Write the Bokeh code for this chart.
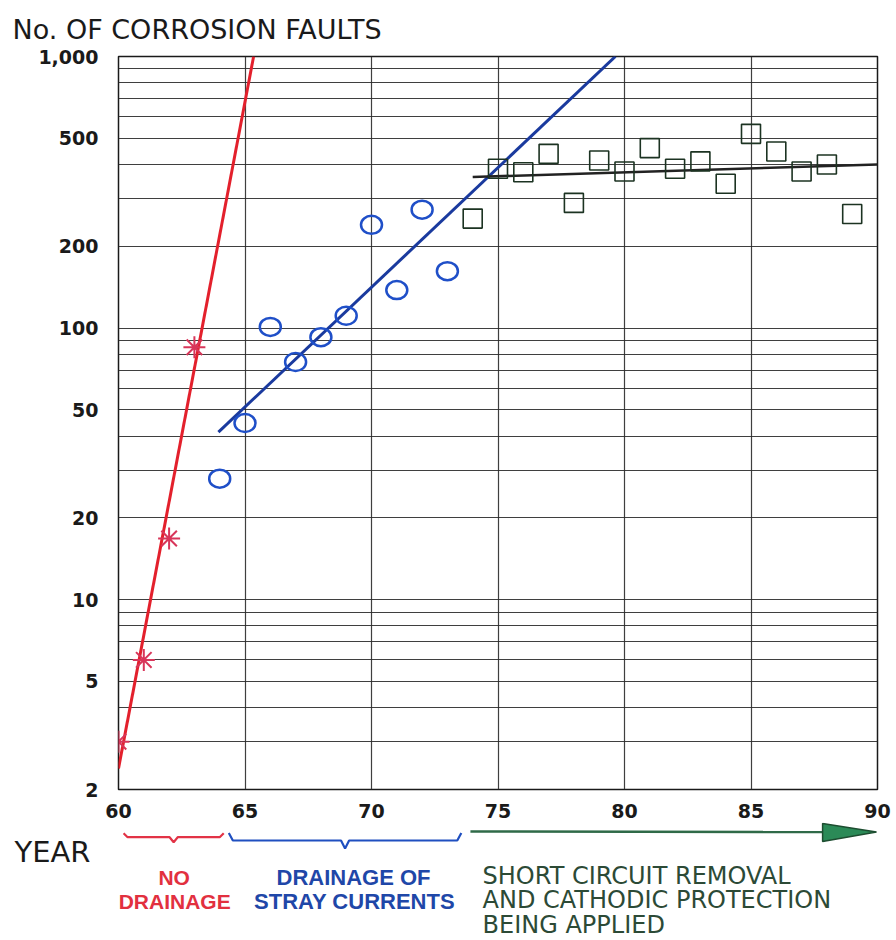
import numpy as np
from bokeh.plotting import figure
from bokeh.layouts import column
from bokeh.models import Range1d, FixedTicker, NumeralTickFormatter
from bokeh.core.properties import value
from bokeh.embed import file_html
from bokeh.resources import INLINE

# ---------------- data ----------------
no_drain_years = [60, 61, 62, 63]
no_drain_faults = [3.0, 6.0, 16.8, 85]

stray_years = [64, 65, 66, 67, 68, 69, 70, 71, 72, 73]
stray_faults = [27.9, 44.7, 101, 75, 92.6, 111, 240, 138, 273, 162]

cp_years = [74, 75, 76, 77, 78, 79, 80, 81, 82, 83, 84, 85, 86, 87, 88, 89]
cp_faults = [253, 386, 375, 438, 289, 414, 377, 460, 386, 411, 340, 519, 447, 377, 400, 263]

trend_red_x = [60, 65.34]
trend_red_y = [2.39, 1000]
trend_blue_x = [63.95, 79.64]
trend_blue_y = [41.4, 1000]
trend_black_x = [74, 90]
trend_black_y = [360, 400]

x_ticks = [60, 65, 70, 75, 80, 85, 90]
y_ticks = [2, 5, 10, 20, 50, 100, 200, 500, 1000]
y_grid = [2, 3, 4, 5, 6, 7, 8, 9, 10, 20, 30, 40, 50, 60, 70, 80, 90,
          100, 200, 300, 400, 500, 600, 700, 800, 900, 1000]

title_text = "No. OF CORROSION FAULTS"
x_title = "YEAR"
phase1 = ["NO", "DRAINAGE"]
phase2 = ["DRAINAGE OF", "STRAY CURRENTS"]
phase3 = ["SHORT CIRCUIT REMOVAL", "AND CATHODIC PROTECTION", "BEING APPLIED"]

# phase spans (years) used for braces / arrow below the axis
phase1_span = [60.2, 64.16]
phase2_span = [64.36, 73.55]
phase3_span = [73.91, 89.96]

# ---------------- layout ----------------
W = 896
FL, FR = 118, 877          # frame left / right (px)
TOP, FRAME_H, BOT = 56, 733, 33
MAIN_H = TOP + FRAME_H + BOT
FOOT_H = 940 - MAIN_H

# main chart
p = figure(width=W, height=MAIN_H, y_axis_type="log",
           x_range=Range1d(60, 90), y_range=Range1d(2, 1000),
           output_backend="svg", toolbar_location=None,
           min_border_left=FL, min_border_right=W - FR,
           min_border_top=TOP, min_border_bottom=BOT)
p.title.text = title_text
p.title.align = "left"
p.title.offset = -106
p.title.text_font = "DejaVu Sans"
p.title.text_font_style = "normal"
p.title.text_font_size = "27px"
p.title.text_color = "#1a1a1a"
p.title.standoff = 23
p.background_fill_color = "white"
p.border_fill_color = "white"
p.outline_line_color = "#1a1a1a"
p.outline_line_width = 1.5

for ax in (p.xaxis, p.yaxis):
    ax.axis_line_color = None
    ax.major_tick_line_color = None
    ax.minor_tick_line_color = None
    ax.major_label_text_font = "DejaVu Sans"
    ax.major_label_text_font_style = "bold"
    ax.major_label_text_font_size = "19px"
    ax.major_label_text_color = "#1a1a1a"

p.xaxis.ticker = FixedTicker(ticks=x_ticks)
p.xaxis.major_label_standoff = 8
p.yaxis.ticker = FixedTicker(ticks=y_ticks)
p.yaxis.formatter = NumeralTickFormatter(format="0,0")
p.yaxis.major_label_standoff = 14

p.xgrid.ticker = FixedTicker(ticks=x_ticks)
p.ygrid.ticker = FixedTicker(ticks=y_grid)
for g in (p.xgrid, p.ygrid):
    g.grid_line_color = "#2a2a2a"
    g.grid_line_width = 1.2
    g.grid_line_alpha = 0.9

p.line(trend_red_x, trend_red_y, line_color="#e3202c", line_width=3)
p.line(trend_blue_x, trend_blue_y, line_color="#1a3a9e", line_width=3)
p.line(trend_black_x, trend_black_y, line_color="#222222", line_width=2.5)

p.scatter(no_drain_years, no_drain_faults, marker="asterisk", size=22, angle=np.pi / 2,
          line_color="#d8365a", line_width=2)
p.ellipse(x=stray_years, y=stray_faults, width=21, height=18,
          width_units="screen", height_units="screen",
          fill_color=None, line_color="#1f4fc8", line_width=2.5)
p.scatter(cp_years, cp_faults, marker="square", size=19, fill_color=None,
          line_color="#1c3322", line_width=1.6)

# footer: same x range (years) as the main chart, y in px from top of the footer
foot = figure(width=W, height=FOOT_H, x_range=p.x_range,
              y_range=Range1d(FOOT_H, 0),
              x_axis_location=None, y_axis_location="left", output_backend="svg",
              toolbar_location=None, min_border_left=FL, min_border_right=W - FR,
              min_border_top=0, min_border_bottom=0)
foot.title.visible = False
foot.outline_line_color = None
foot.grid.visible = False
foot.background_fill_color = "white"
foot.border_fill_color = "white"
# "YEAR" is the single label of the footer's left axis
year_pos = 29
foot.yaxis.ticker = FixedTicker(ticks=[year_pos])
foot.yaxis.major_label_overrides = {year_pos: x_title}
foot.yaxis.axis_line_color = None
foot.yaxis.major_tick_line_color = None
foot.yaxis.minor_tick_line_color = None
foot.yaxis.major_label_text_font = "DejaVu Sans"
foot.yaxis.major_label_text_font_size = "29px"
foot.yaxis.major_label_text_color = "#1a1a1a"
foot.yaxis.major_label_standoff = 22

red_c, blue_c, green_c = "#e2303f", "#1f47a8", "#2c4a36"


def brace(x0, x1, ybar, rise, dip, color):
    mid = (x0 + x1) / 2
    k = 0.16
    xs = [x0, x0 + k, mid - k, mid, mid + k, x1 - k, x1]
    ys = [ybar - rise, ybar, ybar, ybar + dip, ybar, ybar, ybar - rise]
    foot.line(xs, ys, line_color=color, line_width=2.2)


brace(phase1_span[0], phase1_span[1], 14.7, 4, 5, "#e23346")
brace(phase2_span[0], phase2_span[1], 18, 7.5, 8, "#1f4fc0")

# arrow of the third phase
foot.line([phase3_span[0], phase3_span[1] - 2.1], [9, 9.5], line_color="#2f6a48", line_width=2.5)
foot.patch([phase3_span[1] - 2.13, phase3_span[1], phase3_span[1] - 2.13], [1, 9.5, 19],
           fill_color="#2b8a57", line_color="#1d4d30", line_width=1.5)

foot.text(x=[62.2, 62.22], y=[55, 79], text=phase1, text_font=value("Liberation Sans"),
          text_font_style="bold", text_font_size="21px", text_color=red_c,
          text_align="center", text_baseline="middle")
foot.text(x=[69.29, 69.33], y=[55, 79], text=phase2, text_font=value("Liberation Sans"),
          text_font_style="bold", text_font_size="22px", text_color=blue_c,
          text_align="center", text_baseline="middle")
foot.text(x=[74.39] * 3, y=[53, 77, 102], text=phase3, text_font=value("DejaVu Sans"),
          text_font_size="24px", text_color=green_c,
          text_align="left", text_baseline="middle")

layout = column(p, foot, spacing=0)
open("out.html", "w").write(file_html(layout, INLINE))
